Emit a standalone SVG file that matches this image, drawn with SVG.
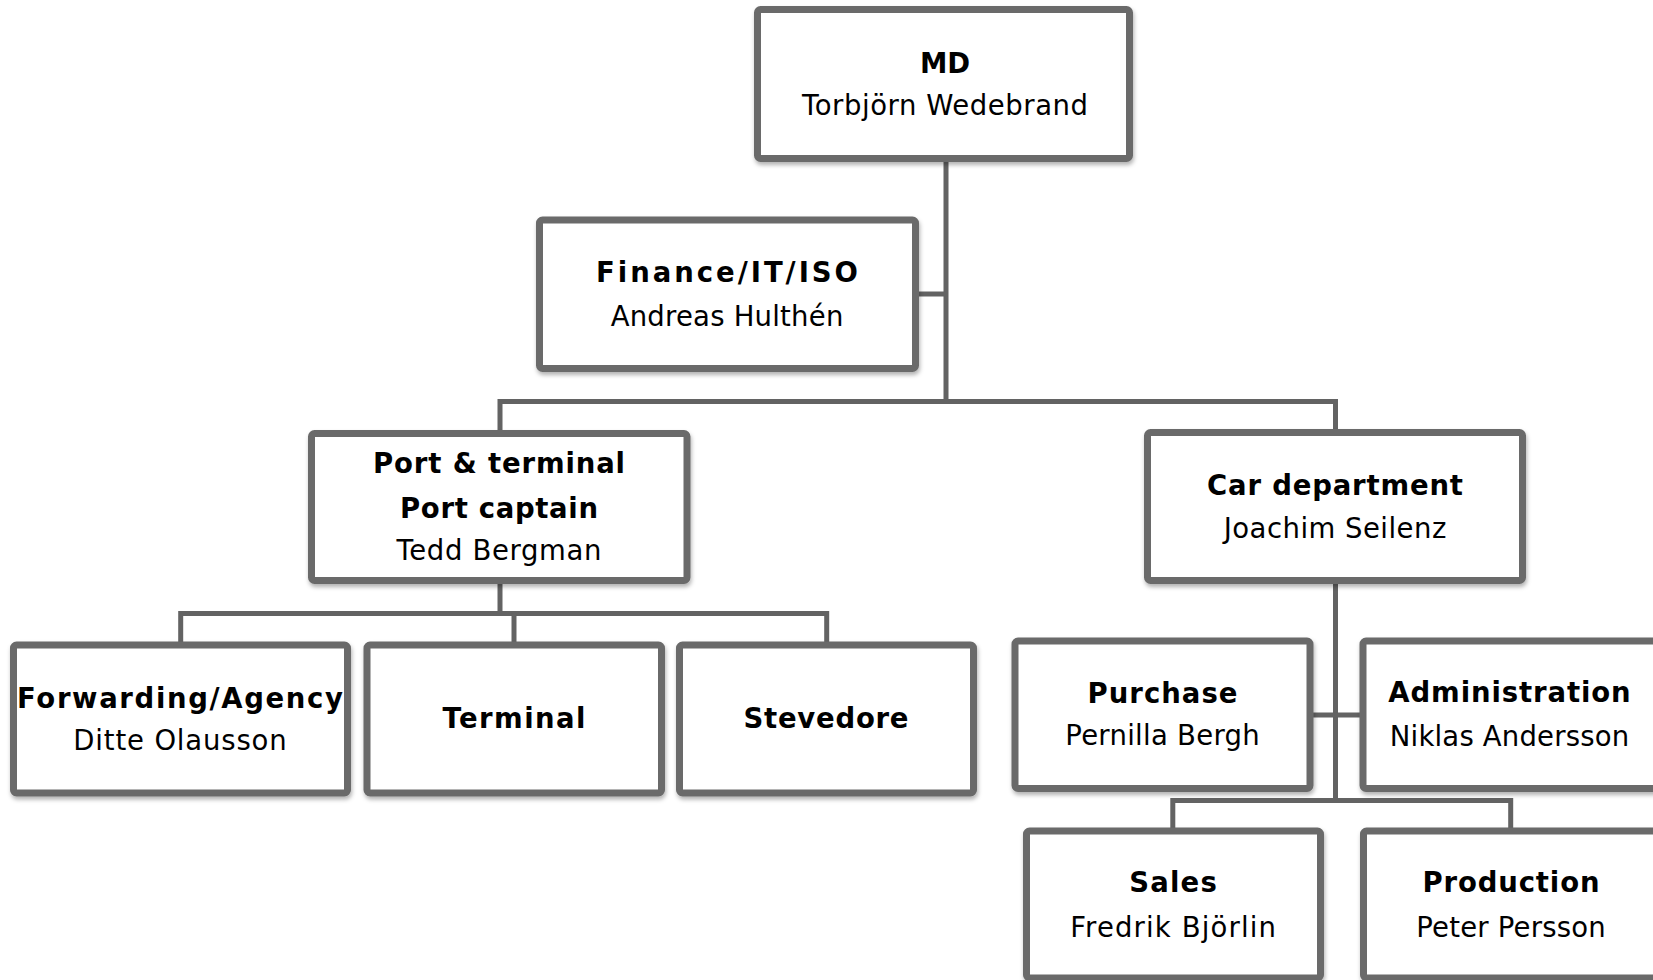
<svg xmlns="http://www.w3.org/2000/svg" width="1653" height="980" viewBox="0 0 1653 980">
<style>
.box{fill:#fff;stroke:#6b6b6b;stroke-width:7;filter:url(#sh)}
.ln{stroke:#636363;stroke-width:5;fill:none}
.t{font-family:"DejaVu Sans","Liberation Sans",sans-serif;font-size:27.5px;fill:#000;text-anchor:middle}
.b{font-weight:bold}
</style>
<defs>
<filter id="sh" x="-10%" y="-10%" width="120%" height="130%">
<feDropShadow dx="1" dy="3" stdDeviation="2" flood-color="#000" flood-opacity="0.3"/>
</filter>
</defs>
<g id="connectors">
<path class="ln" d="M946 160 V401.5"/>
<path class="ln" d="M917 294 H946"/>
<path class="ln" d="M500 432 V401.5 H1335.5 V431"/>
<path class="ln" d="M500 582 V613.5"/>
<path class="ln" d="M180.7 644 V613.5 H826.7 V644"/>
<path class="ln" d="M514 613.5 V644"/>
<path class="ln" d="M1335.5 582 V800.5"/>
<path class="ln" d="M1311 715 H1361"/>
<path class="ln" d="M1172.8 829 V800.5 H1510.7 V829"/>
</g>
<g id="md">
<rect class="box" x="757.5" y="9.5" width="372" height="149" rx="3"/>
<text class="t b" x="945" y="72.7">MD</text>
<text class="t" x="945" y="115" textLength="286" lengthAdjust="spacing">Torbjörn Wedebrand</text>
</g>
<g id="finance">
<rect class="box" x="539.5" y="220" width="376" height="148.5" rx="3"/>
<text class="t b" x="727" y="281.7" textLength="262" lengthAdjust="spacing">Finance/IT/ISO</text>
<text class="t" x="727" y="326" textLength="232.7" lengthAdjust="spacing">Andreas Hulthén</text>
</g>
<g id="port">
<rect class="box" x="311.5" y="433.5" width="375.5" height="147" rx="3"/>
<text class="t b" x="499" y="473.3" textLength="252" lengthAdjust="spacing">Port &amp; terminal</text>
<text class="t b" x="499" y="518.3" textLength="198" lengthAdjust="spacing">Port captain</text>
<text class="t" x="499" y="560" textLength="205" lengthAdjust="spacing">Tedd Bergman</text>
</g>
<g id="car">
<rect class="box" x="1147.5" y="432.5" width="375" height="148" rx="3"/>
<text class="t b" x="1335" y="495" textLength="256" lengthAdjust="spacing">Car department</text>
<text class="t" x="1335" y="538" textLength="222.7" lengthAdjust="spacing">Joachim Seilenz</text>
</g>
<g id="forwarding">
<rect class="box" x="13.5" y="645" width="334" height="148" rx="3"/>
<text class="t b" x="180" y="708" textLength="326" lengthAdjust="spacing">Forwarding/Agency</text>
<text class="t" x="180" y="750" textLength="213.3" lengthAdjust="spacing">Ditte Olausson</text>
</g>
<g id="terminal">
<rect class="box" x="367" y="645" width="294.5" height="148" rx="3"/>
<text class="t b" x="514" y="728" textLength="143" lengthAdjust="spacing">Terminal</text>
</g>
<g id="stevedore">
<rect class="box" x="679.5" y="645" width="294" height="148" rx="3"/>
<text class="t b" x="826" y="728" textLength="165" lengthAdjust="spacing">Stevedore</text>
</g>
<g id="purchase">
<rect class="box" x="1015" y="641" width="295" height="147.5" rx="3"/>
<text class="t b" x="1162.5" y="703" textLength="150" lengthAdjust="spacing">Purchase</text>
<text class="t" x="1162.5" y="745" textLength="194.5" lengthAdjust="spacing">Pernilla Bergh</text>
</g>
<g id="administration">
<rect class="box" x="1363" y="641" width="295" height="147.5" rx="3"/>
<text class="t b" x="1509.5" y="702" textLength="242.3" lengthAdjust="spacing">Administration</text>
<text class="t" x="1509.5" y="745.5" textLength="239.3" lengthAdjust="spacing">Niklas Andersson</text>
</g>
<g id="sales">
<rect class="box" x="1026.5" y="831" width="294" height="147" rx="3"/>
<text class="t b" x="1173" y="891.7" textLength="87.5" lengthAdjust="spacing">Sales</text>
<text class="t" x="1173" y="936.7" textLength="205.7" lengthAdjust="spacing">Fredrik Björlin</text>
</g>
<g id="production">
<rect class="box" x="1363.5" y="831" width="295" height="147" rx="3"/>
<text class="t b" x="1511" y="891.7" textLength="177" lengthAdjust="spacing">Production</text>
<text class="t" x="1511" y="936.7" textLength="189.5" lengthAdjust="spacing">Peter Persson</text>
</g>
</svg>
